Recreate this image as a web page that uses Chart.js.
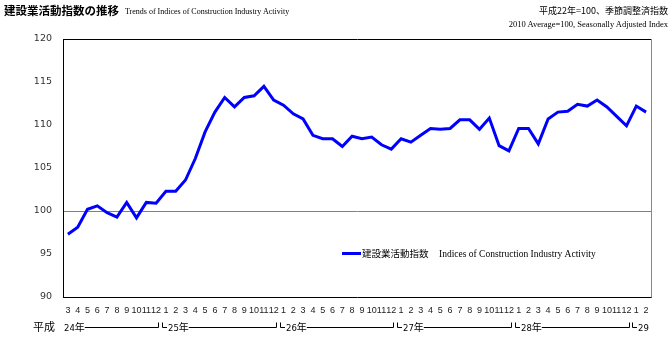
<!DOCTYPE html>
<html lang="ja">
<head>
  <meta charset="UTF-8">
  <title>建設業活動指数の推移</title>
  <script src="https://cdn.jsdelivr.net/npm/chart.js"></script>
  <style>
    html, body { margin: 0; padding: 0; background: #fff; }
    .wrap { position: relative; width: 670px; height: 341px; }
    .t { position: absolute; white-space: nowrap; color: #000; }
    .jp { font-family: "Noto Sans CJK JP", sans-serif; }
    .en { font-family: "Liberation Serif", serif; }
  </style>
</head>
<body>
  <div class="wrap">
    <canvas id="chart" width="670" height="341"></canvas>
    <div class="t jp" style="left:4px; top:2px; font-size:11.5px; font-weight:700;">建設業活動指数の推移</div>
    <div class="t en" style="left:125px; top:7px; font-size:8px;">Trends of Indices of Construction Industry Activity</div>
    <div class="t jp" style="right:2px; top:4px; font-size:9px;">平成22年=100、季節調整済指数</div>
    <div class="t en" style="right:2px; top:19px; font-size:8.5px;">2010 Average=100, Seasonally Adjusted Index</div>
  </div>

  <script>
    // months from 平成24年3月 to 平成29年2月
    const months = [3,4,5,6,7,8,9,10,11,12,
      1,2,3,4,5,6,7,8,9,10,11,12,
      1,2,3,4,5,6,7,8,9,10,11,12,
      1,2,3,4,5,6,7,8,9,10,11,12,
      1,2,3,4,5,6,7,8,9,10,11,12,
      1,2];
    const years = ['24', '25', '26', '27', '28', '29'];
    const yearCounts = [10, 12, 12, 12, 12, 2];

    const activity = [97.3, 98.1, 100.2, 100.6, 99.8, 99.3, 101.0, 99.2, 101.0, 100.9,
      102.3, 102.3, 103.6, 106.1, 109.2, 111.5, 113.2, 112.1, 113.2, 113.4, 114.5, 112.9,
      112.3, 111.3, 110.7, 108.8, 108.4, 108.4, 107.5, 108.7, 108.4, 108.6, 107.7, 107.2,
      108.4, 108.0, 108.8, 109.6, 109.5, 109.6, 110.6, 110.6, 109.5, 110.8, 107.6, 107.0,
      109.6, 109.6, 107.8, 110.7, 111.5, 111.6, 112.4, 112.2, 112.9, 112.1, 111.0, 109.9,
      112.2, 111.5];

    const seriesLabel = '建設業活動指数';
    const seriesLabelEn = 'Indices of Construction Industry Activity';

    // frame around plot, legend and year brackets under the month ticks
    const decorations = {
      id: 'decorations',
      afterDraw(chart) {
        const ctx = chart.ctx;
        const a = chart.chartArea;
        const x = chart.scales.x;
        ctx.save();
        // frame
        ctx.strokeStyle = '#000';
        ctx.lineWidth = 1;
        ctx.beginPath();
        ctx.moveTo(a.left + 0.5, a.bottom + 0.5);
        ctx.lineTo(a.left + 0.5, a.top + 0.5);
        ctx.lineTo(a.right + 0.5, a.top + 0.5);
        ctx.stroke();
        ctx.strokeStyle = '#888';
        ctx.beginPath();
        ctx.moveTo(a.right + 0.5, a.top + 0.5);
        ctx.lineTo(a.right + 0.5, a.bottom + 0.5);
        ctx.stroke();

        // legend
        const ly = 253.5;
        ctx.strokeStyle = '#0000ff';
        ctx.lineWidth = 3;
        ctx.beginPath();
        ctx.moveTo(342, ly);
        ctx.lineTo(361, ly);
        ctx.stroke();
        ctx.fillStyle = '#000';
        ctx.textBaseline = 'middle';
        ctx.font = '9.5px "Noto Sans CJK JP"';
        ctx.fillText(seriesLabel, 362, ly);
        ctx.font = '9.5px "Liberation Serif"';
        ctx.fillText(seriesLabelEn, 439, ly + 0.5);

        // year row
        const yy = 327.5;
        ctx.font = '11px "Noto Sans CJK JP"';
        ctx.fillText('平成', 33, yy - 1);
        ctx.strokeStyle = '#000';
        ctx.lineWidth = 1;
        let idx = 0;
        years.forEach((yr, i) => {
          const first = idx, last = idx + yearCounts[i] - 1;
          idx += yearCounts[i];
          let sx = Math.round(x.getPixelForValue(first)) - 4;
          if (i > 0) {
            ctx.beginPath();
            ctx.moveTo(sx + 0.5, yy - 5);
            ctx.lineTo(sx + 0.5, yy);
            ctx.lineTo(sx + 5, yy);
            ctx.stroke();
            sx += 6;
          }
          ctx.font = '8.5px "DejaVu Sans"';
          ctx.fillText(yr, sx, yy + 1);
          let tx = sx + ctx.measureText(yr).width;
          if (i === years.length - 1) return;
          ctx.font = '10px "Noto Sans CJK JP"';
          ctx.fillText('年', tx, yy);
          tx += 10;
          const ex = Math.round(x.getPixelForValue(last)) + 2;
          ctx.beginPath();
          ctx.moveTo(tx, yy);
          ctx.lineTo(ex + 0.5, yy);
          ctx.lineTo(ex + 0.5, yy - 5);
          ctx.stroke();
        });
        ctx.restore();
      }
    };

    new Chart(document.getElementById('chart'), {
      type: 'line',
      data: {
        labels: months,
        datasets: [{
          label: seriesLabel,
          data: activity,
          borderColor: '#0000ff',
          borderWidth: 3,
          pointRadius: 0,
          tension: 0,
          fill: false
        }]
      },
      options: {
        responsive: false,
        animation: false,
        layout: { padding: { top: 39, right: 19, left: 0, bottom: 0 } },
        plugins: {
          legend: { display: false },
          tooltip: { enabled: false }
        },
        scales: {
          x: {
            offset: true,
            afterFit: s => { s.height = 44; },
            grid: { display: false, drawTicks: false },
            border: { display: true, color: '#000', width: 1 },
            ticks: {
              autoSkip: false,
              maxRotation: 0,
              padding: 8,
              color: '#222',
              font: { family: 'Liberation Sans', size: 9 }
            }
          },
          y: {
            min: 90,
            max: 120,
            afterFit: s => { s.width = 63; },
            grid: {
              drawTicks: false,
              color: c => c.tick.value === 100 ? '#808080' : 'rgba(0,0,0,0)'
            },
            border: { display: true, color: '#000', width: 1 },
            ticks: {
              stepSize: 5,
              padding: 11,
              color: '#333',
              font: { family: 'DejaVu Sans', size: 9.5 }
            }
          }
        }
      },
      plugins: [decorations]
    });
  </script>
</body>
</html>
